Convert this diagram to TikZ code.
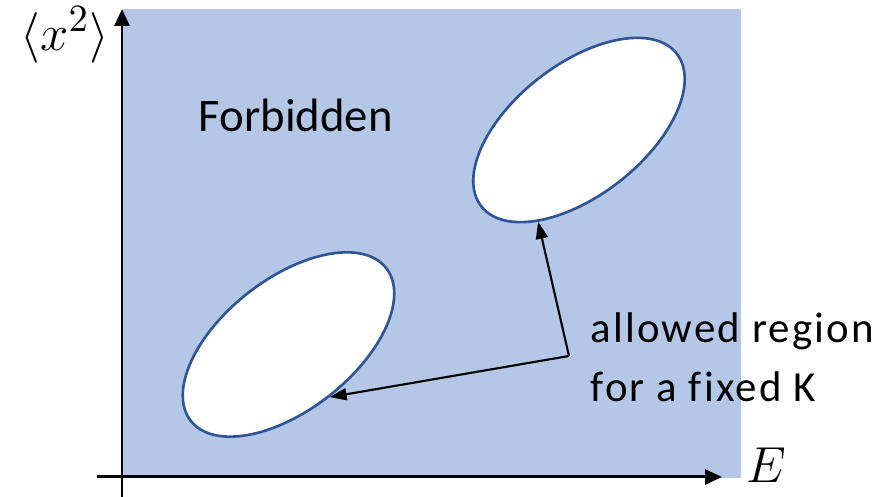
\documentclass[tikz,border=0pt]{standalone}
\usepackage{amsmath}
\usepackage{fontspec}
\usepackage{tikz}
\usepackage{xcolor}
\usetikzlibrary{arrows.meta,shapes.geometric}
\newfontfamily\calib{Carlito}
\newfontfamily\calibL[LetterSpace=5,Ligatures=NoCommon]{Carlito}
\definecolor{fondbleu}{HTML}{B4C7E7}
\definecolor{bordbleu}{HTML}{2F5597}
\tikzset{
Axe/.style={
 draw=black, 
 line width=0.85pt, 
 -{Triangle[length=1.7mm,width=1.5mm]}
 },
Fleche/.style={
 draw=black, 
 line width=0.6pt, 
 -{Triangle[length=1.7mm,width=1.2mm]}
 },
Zone/.style={
 ellipse, 
 draw=bordbleu, 
 fill=white, 
 line width=0.75pt, 
 rotate=38, 
 minimum width=2.48cm, 
 minimum height=1.31cm, 
 inner sep=0pt
 },
Texte/.style={
 font=\calib\fontsize{13.3}{16.8}\selectfont, 
 inner sep=0pt
 },
Legende/.style={
 font=\calibL\fontsize{12.2}{16.8}\selectfont, 
 inner sep=0pt, 
 align=left
 },
Maths/.style={
 font=\fontsize{13.6}{16}\selectfont, 
 inner sep=0pt
 }
}

\begin{document}
\begin{tikzpicture}
\useasboundingbox (0,0) rectangle (8.91,4.97);
% fond bleu
\fill[fondbleu] (1.23,0.19) rectangle (7.41,4.88);
% axes
\coordinate (ybas) at (1.22,0);
\coordinate (yhaut) at (1.22,4.88);
\coordinate (xgauche) at (0.97,0.20);
\coordinate (xdroite) at (7.22,0.20);
\draw[Axe] (ybas) -- (yhaut);
\draw[Axe] (xgauche) -- (xdroite);
\node[Maths,font=\fontsize{15.6}{18}\selectfont] (lblx) at (0.65,4.62) {$\langle x^2\rangle$};
\node[Maths] (lblE) at (7.66,0.32) {$E$};
% zones permises
\node[Zone] (bas) at (2.885,1.525) {};
\node[Zone] (haut) at (5.79,3.67) {};
\node[Texte,anchor=base west] (interdit) at (1.98,3.65) {Forbidden};
\node[Legende,anchor=base west] (permis) at (5.90,0.95) {allowed region\\for a fixed K};
\coordinate (coude) at (5.69,1.41);
\draw[Fleche] (coude) -- (haut.208);
\draw[Fleche] (coude) -- (bas.south);
\end{tikzpicture}
\end{document}
